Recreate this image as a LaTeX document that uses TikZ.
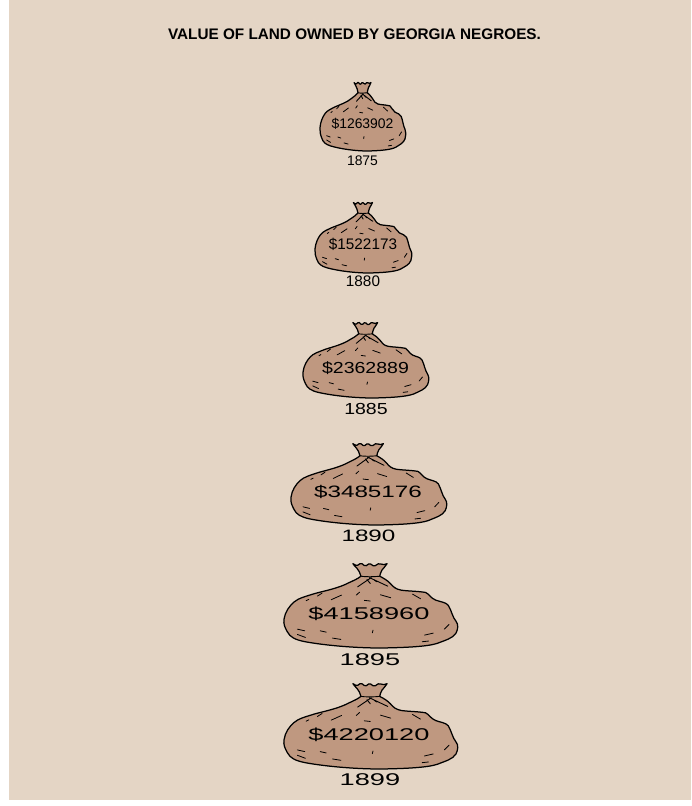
\documentclass[tikz,border=0pt]{standalone}
\usepackage{fontspec}
\setmainfont{Liberation Sans}
\definecolor{paper}{HTML}{E4D5C5}
\definecolor{sack}{HTML}{BF9880}
\tikzset{
  bagline/.style={draw=black,line width=1.25pt,fill=sack,line join=round},
  tie/.style={draw=black,line width=.9pt,line cap=round},
  stitch/.style={draw=black,line width=.8pt,line cap=round},
  lbl/.style={inner sep=0pt,text=black}
}
\newcommand{\moneybag}[4]{% x-left, y-top, width, height
\begin{scope}[shift={(#1,#2)},x={(#3/520,0)},y={(0,#4/257)},xshift=-42*#3/520,yshift=0]
\path[bagline] (248,2) .. controls (254,6) and (258,8) .. (262,7) .. controls (267,2) and (271,1) .. (275,2)
 .. controls (280,8) and (284,9) .. (288,8) .. controls (293,2) and (297,2) .. (301,3)
 .. controls (306,9) and (310,9) .. (315,8) .. controls (321,2) and (326,1) .. (331,3)
 .. controls (337,6) and (344,5) .. (350,2)
 .. controls (346,10) and (339,15) .. (335,21) .. controls (331,28) and (329,34) .. (328,40)
 .. controls (340,46) and (350,52) .. (360,62) .. controls (368,72) and (376,79) .. (392,82)
 .. controls (410,85) and (442,85) .. (465,89) .. controls (476,94) and (480,106) .. (495,112)
 .. controls (510,118) and (525,118) .. (533,128) .. controls (542,142) and (546,165) .. (556,176)
 .. controls (564,186) and (562,200) .. (556,212) .. controls (546,228) and (525,233) .. (500,243)
 .. controls (470,253) and (400,256) .. (330,257) .. controls (260,257) and (170,250) .. (105,238)
 .. controls (75,232) and (60,224) .. (52,208) .. controls (44,194) and (40,184) .. (42,170)
 .. controls (45,148) and (58,130) .. (72,118) .. controls (85,106) and (110,100) .. (135,92)
 .. controls (165,84) and (205,76) .. (235,60) .. controls (248,54) and (262,48) .. (272,40)
 .. controls (270,30) and (265,22) .. (260,16) .. controls (255,11) and (251,7) .. (248,2) -- cycle;
\path[tie] (272,40) .. controls (285,42) and (310,42) .. (328,40);
\path[tie] (303,44) -- (262,72) (297,44) -- (352,70);
\path[tie] (290,50) -- (300,62) (312,52) -- (320,57);
\path[stitch] (108,114) -- (116,110) (142,100) -- (156,91) (183,111) -- (214,97) (258,97) -- (268,88)
 (282,113) -- (300,115) (330,96) -- (361,105) (426,94) -- (450,108)
 (82,200) -- (104,205) (82,216) -- (106,225) (150,205) -- (168,209) (187,227) -- (212,231)
 (308,203) -- (306,211) (462,218) -- (488,212) (455,238) -- (474,236) (521,200) -- (535,186);
\end{scope}}
\begin{document}
\begin{tikzpicture}[x=1pt,y=-1pt]
\useasboundingbox (0,0) rectangle (691,806);
\fill[white] (0,0) rectangle (691,806);
\fill[paper] (9,0) rectangle (691,800);
\node[lbl,font=\bfseries\fontsize{15.3}{17}\selectfont] (title) at (354.5,34.5) {VALUE OF LAND OWNED BY GEORGIA NEGROES.};
\moneybag{320}{82}{86}{69}
\moneybag{315}{202}{97}{71}
\moneybag{303}{322}{126}{76}
\moneybag{291}{443}{156}{82}
\moneybag{284}{563}{174}{85}
\moneybag{284}{683}{174}{86}
\node[lbl,font=\fontsize{13.9}{15}\selectfont] (v1) at (362.5,123.5) {\$1263902};
\node[lbl,font=\fontsize{13.9}{15}\selectfont] (y1) at (362.5,160.5) {1875};
\node[lbl,font=\fontsize{15.3}{17}\selectfont] (v2) at (363,244.5) {\$1522173};
\node[lbl,font=\fontsize{15.3}{17}\selectfont] (y2) at (363,281.5) {1880};
\node[lbl,font=\fontsize{16}{18}\selectfont] (v3) at (365.5,368.5) {\scalebox{1.22}[1]{\$2362889}};
\node[lbl,font=\fontsize{16}{18}\selectfont] (y3) at (366,408.5) {\scalebox{1.22}[1]{1885}};
\node[lbl,font=\fontsize{16.5}{18}\selectfont] (v4) at (368,491.5) {\scalebox{1.47}[1]{\$3485176}};
\node[lbl,font=\fontsize{16.5}{18}\selectfont] (y4) at (368.5,536) {\scalebox{1.47}[1]{1890}};
\node[lbl,font=\fontsize{17}{19}\selectfont] (v5) at (369,613.5) {\scalebox{1.6}[1]{\$4158960}};
\node[lbl,font=\fontsize{17}{19}\selectfont] (y5) at (370,660) {\scalebox{1.6}[1]{1895}};
\node[lbl,font=\fontsize{17}{19}\selectfont] (v6) at (369,734.5) {\scalebox{1.6}[1]{\$4220120}};
\node[lbl,font=\fontsize{17}{19}\selectfont] (y6) at (370,780) {\scalebox{1.6}[1]{1899}};
\end{tikzpicture}
\end{document}
